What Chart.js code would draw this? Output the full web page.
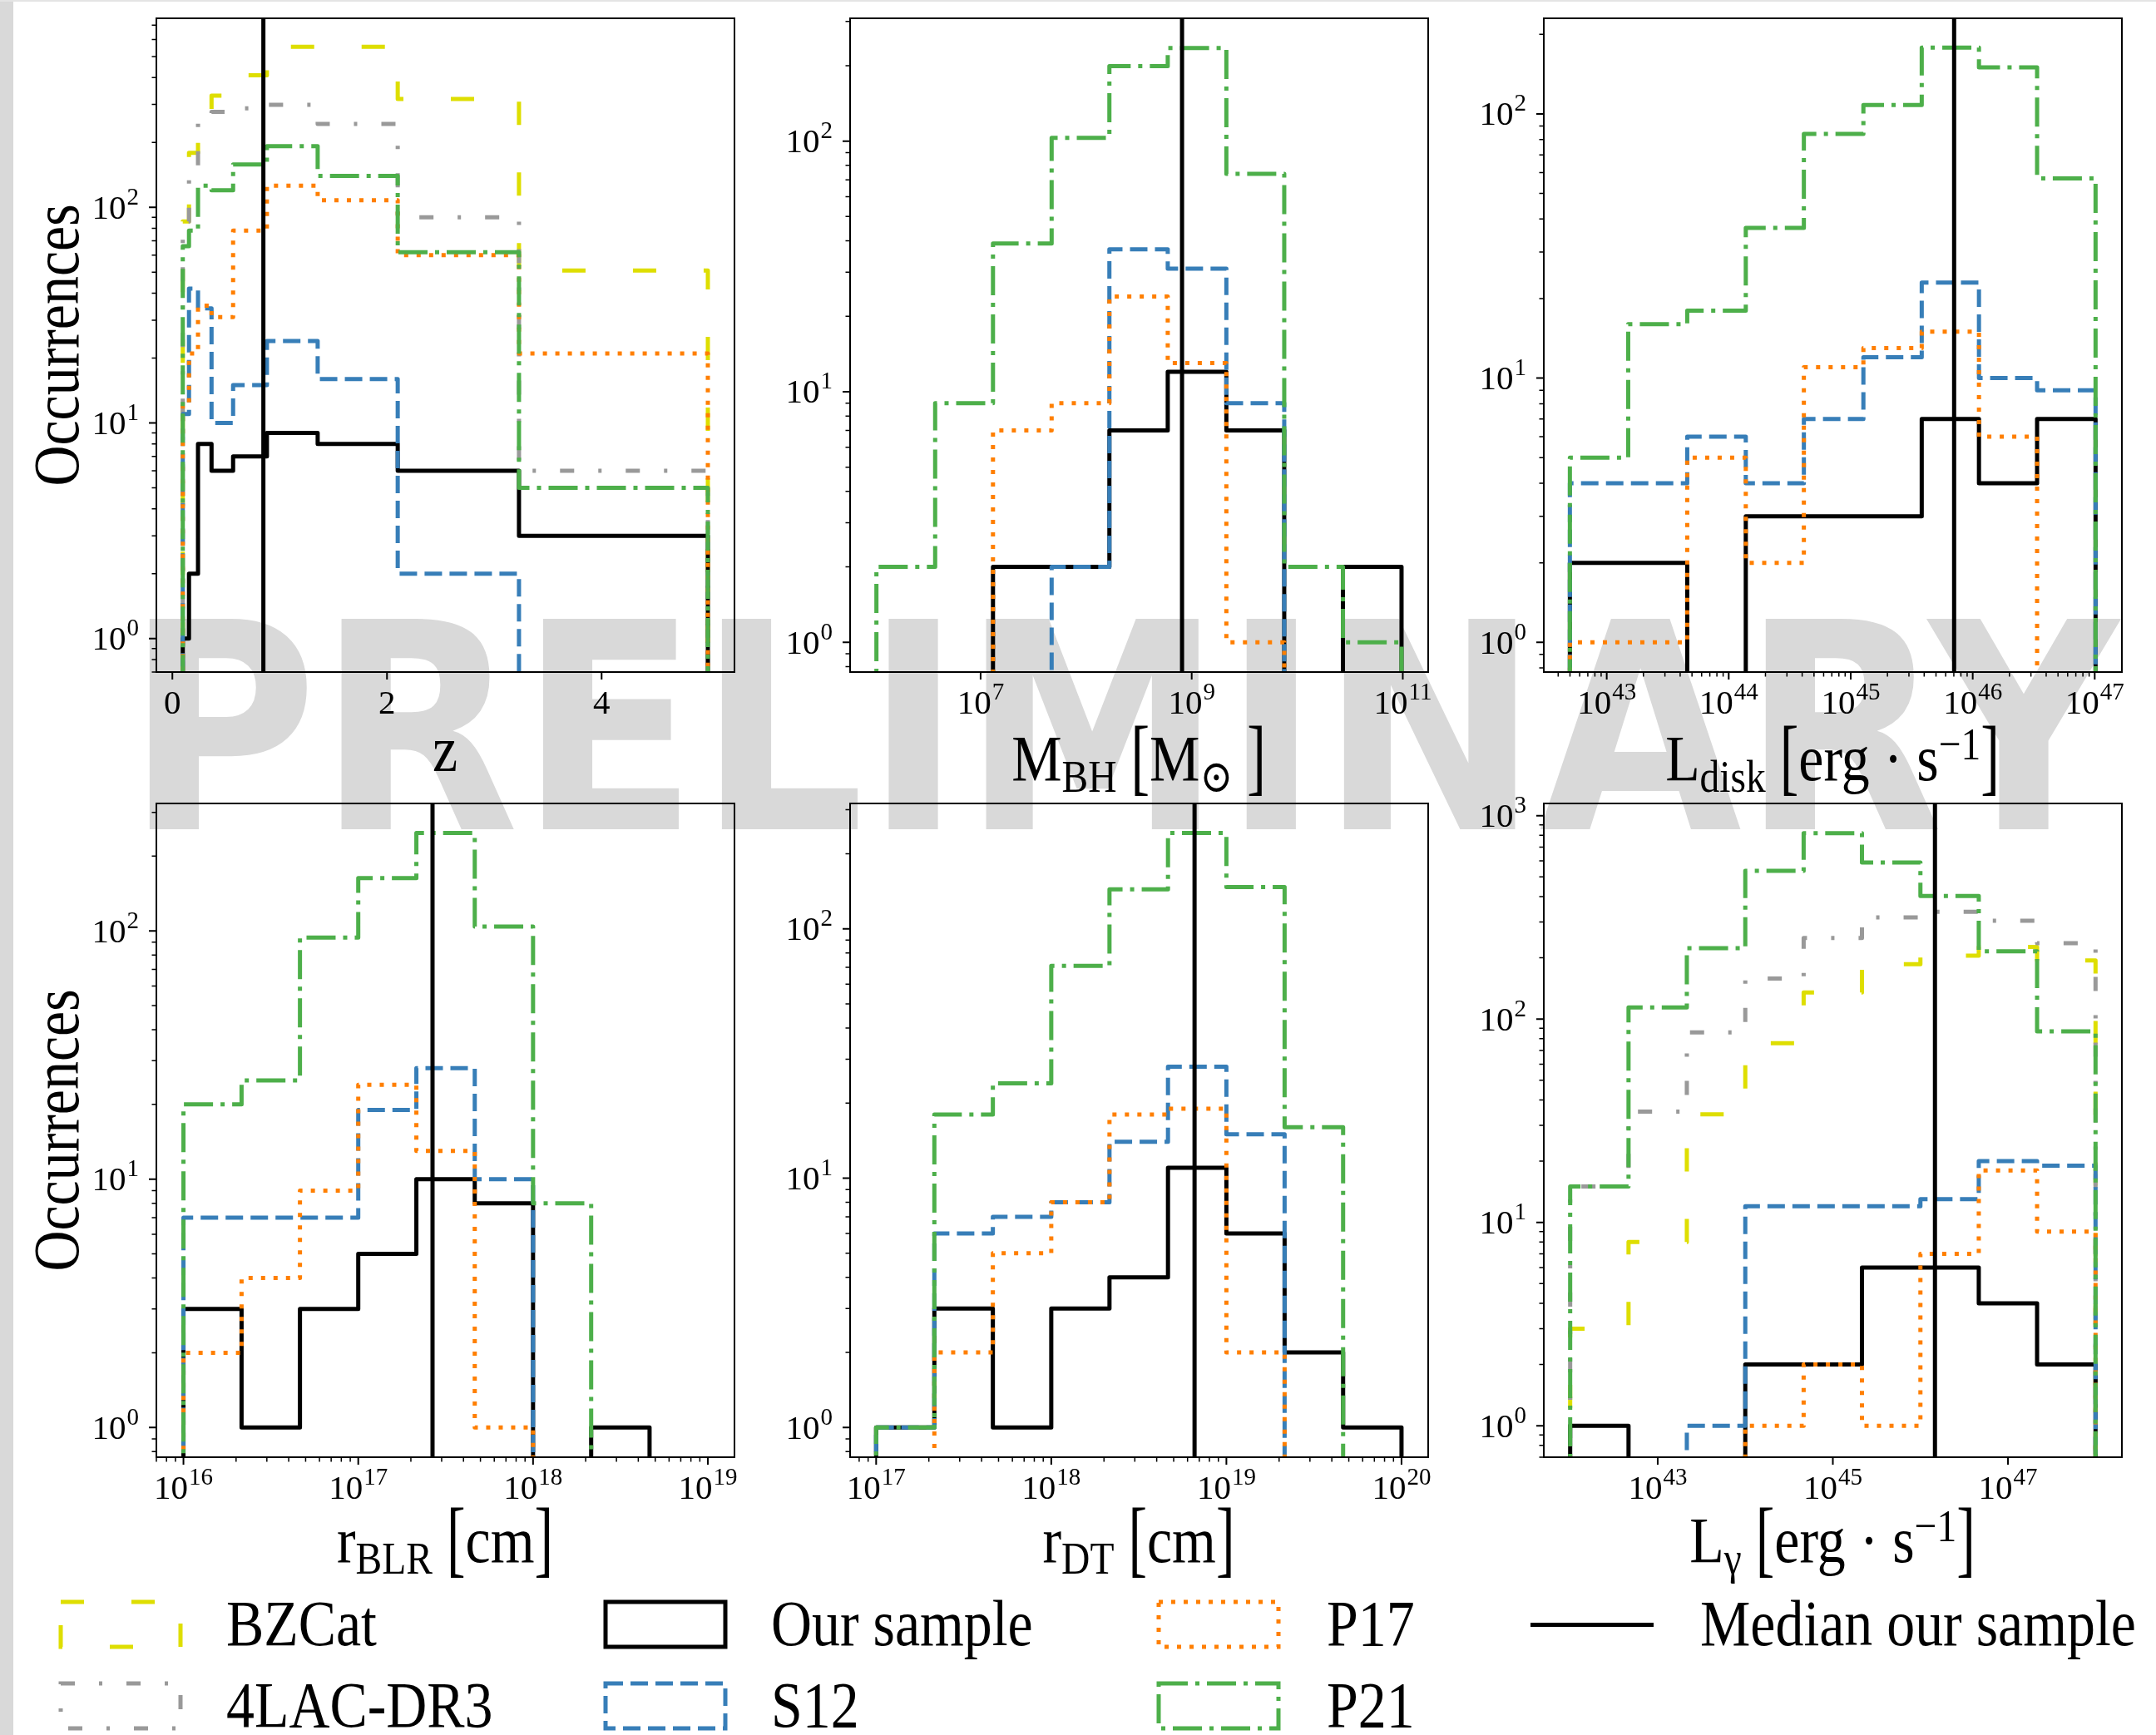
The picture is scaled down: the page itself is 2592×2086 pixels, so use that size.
<!DOCTYPE html>
<html>
<head>
<meta charset="utf-8">
<title>Sample histograms</title>
<script src="https://cdn.jsdelivr.net/npm/chart.js@4.4.1/dist/chart.umd.min.js"></script>
<style>
  html, body { margin: 0; padding: 0; }
  body { position: relative; width: 2592px; height: 2086px; background: #fff; overflow: hidden;
         font-family: "Liberation Serif", "DejaVu Serif", serif; color: #000; }
  #strip { position: absolute; left: 0; top: 0; width: 16px; height: 2086px; background: #d9d9d9; }
  #topline { position: absolute; left: 0; top: 0; width: 2592px; height: 2px; background: #e4e4e4; }
  #watermark { position: absolute; left: 151px; top: 704px; font-family: "DejaVu Sans"; font-weight: bold;
               font-size: 347px; line-height: 1; color: #d9d9d9; white-space: nowrap;
               transform: scaleX(0.907); transform-origin: 0 0; }
  canvas { position: absolute; }
  .xlab { position: absolute; font-size: 78px; line-height: 1; white-space: nowrap;
          transform: translateX(-50%) scaleX(0.87); }
  .ylab { position: absolute; font-size: 78px; line-height: 1; white-space: nowrap;
          transform: translate(-50%, -50%) rotate(-90deg) scaleX(0.87); }
  .sb { font-size: 0.7em; position: relative; top: 0.25em; }
  .sp { font-size: 0.7em; position: relative; top: -0.45em; }
  .br { display: inline-block; transform: scaleY(1.3); transform-origin: 50% 60%; }
  .ltxt { position: absolute; font-size: 78px; line-height: 1; white-space: nowrap;
          transform: scaleX(0.87); transform-origin: 0 0; }
</style>
</head>
<body>
<div id="strip"></div>
<div id="topline"></div>
<div id="watermark">PRELIMINARY</div>

<div class="xlab" style="left:535px; top:862px">z</div>
<div class="xlab" style="left:1369px; top:873px">M<span class="sb">BH</span> <span class="br">[</span>M<span class="sb">⊙</span> <span class="br">]</span></div>
<div class="xlab" style="left:2203px; top:873px">L<span class="sb">disk</span> <span class="br">[</span>erg · s<span class="sp">−1</span><span class="br">]</span></div>
<div class="xlab" style="left:535px; top:1813px">r<span class="sb">BLR</span> <span class="br">[</span>cm<span class="br">]</span></div>
<div class="xlab" style="left:1369px; top:1813px">r<span class="sb">DT</span> <span class="br">[</span>cm<span class="br">]</span></div>
<div class="xlab" style="left:2203px; top:1813px">L<span class="sb">γ</span> <span class="br">[</span>erg · s<span class="sp">−1</span><span class="br">]</span></div>
<div class="ylab" style="left:68px; top:415px">Occurrences</div>
<div class="ylab" style="left:68px; top:1359px">Occurrences</div>

<script>
// ---- data: bin edges and counts per panel ----
const zEdges = [0.097, 0.155, 0.239, 0.365, 0.566, 0.881, 1.354, 2.10, 3.23, 4.99];
const zBZCat = [86, 179, 254, 330, 410, 555, 555, 318, 51];
const z4LAC = [86, 154, 245, 277, 288, 299, 244, 90, 6];
const zOurs = [1, 2, 8, 6, 7, 9, 8, 6, 3];
const zS12 = [11, 42, 34, 10, 15, 24, 16, 2, 0];
const zP17 = [12, 21, 35, 31, 78, 126, 108, 60, 21];
const zP21 = [66, 78, 126, 120, 158, 192, 140, 62, 5];
const zMedian = 0.848;

const mbhEdges = [1.03e6, 3.71e6, 1.31e7, 4.71e7, 1.66e8, 5.93e8, 2.13e9, 7.53e9, 2.71e10, 9.73e10];
const mbhOurs = [0, 0, 2, 2, 7, 12, 7, 0, 2];
const mbhS12 = [0, 0, 0, 2, 37, 31, 9, 0, 0];
const mbhP17 = [0, 0, 7, 9, 24, 13, 1, 0, 0];
const mbhP21 = [2, 9, 39, 103, 199, 235, 74, 2, 1];
const mbhMedian = 8.1e8;

const ldiskEdges = [4.99e42, 1.50e43, 4.57e43, 1.38e44, 4.13e44, 1.27e45, 3.82e45, 1.125e46, 3.37e46, 1.016e47];
const ldiskOurs = [2, 2, 0, 3, 3, 3, 7, 4, 7];
const ldiskS12 = [4, 4, 6, 4, 7, 12, 23, 10, 9];
const ldiskP17 = [1, 1, 5, 2, 11, 13, 15, 6, 0];
const ldiskP21 = [5, 16, 18, 37, 84, 108, 178, 150, 57];
const ldiskMedian = 7.04e45;

const rblrEdges = [1e16, 2.15e16, 4.64e16, 1e17, 2.15e17, 4.64e17, 1e18, 2.15e18, 4.64e18, 1e19];
const rblrOurs = [3, 1, 3, 5, 10, 8, 0, 1, 0];
const rblrS12 = [7, 7, 7, 19, 28, 10, 0, 0, 0];
const rblrP17 = [2, 4, 9, 24, 13, 1, 0, 0, 0];
const rblrP21 = [20, 25, 94, 163, 248, 104, 8, 0, 0];
const rblrMedian = 2.66e17;

const rdtEdges = [1e17, 2.15e17, 4.64e17, 1e18, 2.15e18, 4.64e18, 1e19, 2.15e19, 4.64e19, 1e20];
const rdtOurs = [1, 3, 1, 3, 4, 11, 6, 2, 1];
const rdtS12 = [1, 6, 7, 8, 14, 28, 15, 0, 0];
const rdtP17 = [0, 2, 5, 8, 18, 19, 2, 0, 0];
const rdtP21 = [1, 18, 24, 71, 144, 242, 147, 16, 0];
const rdtMedian = 6.58e18;

const lgEdges = [1e42, 4.64e42, 2.15e43, 1e44, 4.64e44, 2.15e45, 1e46, 4.64e46, 2.15e47, 1e48];
const lgBZCat = [3, 8, 34, 76, 135, 186, 205, 226, 194];
const lg4LAC = [15, 35, 86, 158, 250, 316, 337, 304, 236];
const lgOurs = [1, 0, 0, 2, 2, 6, 6, 4, 2];
const lgS12 = [0, 0, 1, 12, 12, 12, 13, 20, 19];
const lgP17 = [0, 0, 0, 1, 2, 1, 7, 18, 9];
const lgP21 = [15, 114, 223, 535, 820, 588, 403, 215, 87];
const lgMedian = 1.466e46;

// tick positions
const countTicks = [1, 10, 100];
const countTicksWide = [1, 10, 100, 1000];
const zTicks = [0, 2, 4];
const mbhTicks = [1e7, 1e9, 1e11];
const ldiskTicks = [1e43, 1e44, 1e45, 1e46, 1e47];
const rblrTicks = [1e16, 1e17, 1e18, 1e19];
const rdtTicks = [1e17, 1e18, 1e19, 1e20];
const lgTicks = [1e43, 1e45, 1e47];

// ---- styles ----
const SERIES = {
  bzcat: { label: 'BZCat', color: '#dede00', dash: [28, 57], order: 6 },
  lac:   { label: '4LAC-DR3', color: '#999999', dash: [17, 29, 4, 29], order: 5 },
  ours:  { label: 'Our sample', color: '#000000', dash: [], order: 4 },
  s12:   { label: 'S12', color: '#377eb8', dash: [21, 9], order: 3 },
  p17:   { label: 'P17', color: '#ff7f00', dash: [5, 10], order: 2 },
  p21:   { label: 'P21', color: '#4daf4a', dash: [35, 9, 5, 9], order: 1 },
};
const LW = 5;
const FLOOR = 0.01;   // empty bins sit below every y range
const CEIL = 1e5;

const PW = 695, PH = 786;
const PAD = { l: 180, r: 30, t: 20, b: 100 };
const TICK_FONT = '"Liberation Serif", "DejaVu Serif", serif';

const panels = [
  { left: 188, top: 22, xLog: false, xRange: [-0.149, 5.238], yRange: [0.730, 753],
    edges: zEdges, hists: { bzcat: zBZCat, lac: z4LAC, ours: zOurs, s12: zS12, p17: zP17, p21: zP21 },
    median: zMedian, xTicks: zTicks, xMinor: false, yTicks: countTicks },
  { left: 1022, top: 22, xLog: true, xRange: [5.8e5, 1.74e11], yRange: [0.761, 309],
    edges: mbhEdges, hists: { ours: mbhOurs, s12: mbhS12, p17: mbhP17, p21: mbhP21 },
    median: mbhMedian, xTicks: mbhTicks, xMinor: false, yTicks: countTicks },
  { left: 1856, top: 22, xLog: true, xRange: [3.05e42, 1.67e47], yRange: [0.772, 230],
    edges: ldiskEdges, hists: { ours: ldiskOurs, s12: ldiskS12, p17: ldiskP17, p21: ldiskP21 },
    median: ldiskMedian, xTicks: ldiskTicks, xMinor: true, yTicks: countTicks },
  { left: 188, top: 966, xLog: true, xRange: [7.0e15, 1.42e19], yRange: [0.759, 326],
    edges: rblrEdges, hists: { ours: rblrOurs, s12: rblrS12, p17: rblrP17, p21: rblrP21 },
    median: rblrMedian, xTicks: rblrTicks, xMinor: true, yTicks: countTicks },
  { left: 1022, top: 966, xLog: true, xRange: [7.1e16, 1.42e20], yRange: [0.760, 318],
    edges: rdtEdges, hists: { ours: rdtOurs, s12: rdtS12, p17: rdtP17, p21: rdtP21 },
    median: rdtMedian, xTicks: rdtTicks, xMinor: true, yTicks: countTicks },
  { left: 1856, top: 966, xLog: true, xRange: [5.0e41, 2.0e48], yRange: [0.715, 1148],
    edges: lgEdges, hists: { bzcat: lgBZCat, lac: lg4LAC, ours: lgOurs, s12: lgS12, p17: lgP17, p21: lgP21 },
    median: lgMedian, xTicks: lgTicks, xMinor: false, yTicks: countTicksWide },
];

// outline of a step histogram: up the first edge, across each bin, down the last edge
function stepOutline(edges, counts) {
  const pts = [{ x: edges[0], y: FLOOR }];
  counts.forEach((c, i) => {
    const y = c > 0 ? c : FLOOR;
    pts.push({ x: edges[i], y }, { x: edges[i + 1], y });
  });
  pts.push({ x: edges[edges.length - 1], y: FLOOR });
  return pts;
}

function minorTicks(min, max) {
  const out = [];
  for (let d = Math.floor(Math.log10(min)); d <= Math.ceil(Math.log10(max)); d++) {
    for (let k = 2; k <= 9; k++) {
      const v = k * Math.pow(10, d);
      if (v >= min && v <= max) out.push(v);
    }
  }
  return out;
}

function tickLabel(ctx, v, isLog, x, baseline, align) {
  const main = isLog ? '10' : String(v);
  const exp = isLog ? String(Math.round(Math.log10(v))) : '';
  ctx.font = '41px ' + TICK_FONT;
  const w1 = ctx.measureText(main).width;
  ctx.font = '29px ' + TICK_FONT;
  const w2 = exp ? ctx.measureText(exp).width + 1 : 0;
  const x0 = align === 'center' ? x - (w1 + w2) / 2 : x - (w1 + w2);
  ctx.font = '41px ' + TICK_FONT;
  ctx.fillText(main, x0, baseline);
  if (exp) {
    ctx.font = '29px ' + TICK_FONT;
    ctx.fillText(exp, x0 + w1 + 1, baseline - 17);
  }
}

// box, outward ticks and tick labels
function makeFrame(p) {
  return {
    id: 'axesFrame',
    afterDatasetsDraw(chart) {
      const { ctx, chartArea: a } = chart;
      const xs = chart.scales.x, ys = chart.scales.y;
      ctx.save();
      ctx.strokeStyle = '#000';
      ctx.fillStyle = '#000';
      ctx.lineCap = 'butt';
      ctx.setLineDash([]);

      ctx.lineWidth = 1.5;
      ctx.beginPath();
      if (p.xMinor) {
        minorTicks(xs.min, xs.max).forEach(v => {
          const px = xs.getPixelForValue(v);
          ctx.moveTo(px, a.bottom); ctx.lineTo(px, a.bottom + 5.5);
        });
      }
      minorTicks(ys.min, ys.max).forEach(v => {
        const py = ys.getPixelForValue(v);
        ctx.moveTo(a.left, py); ctx.lineTo(a.left - 5.5, py);
      });
      ctx.stroke();

      ctx.lineWidth = 2;
      ctx.beginPath();
      p.xTicks.forEach(v => {
        const px = xs.getPixelForValue(v);
        ctx.moveTo(px, a.bottom); ctx.lineTo(px, a.bottom + 9);
      });
      p.yTicks.forEach(v => {
        const py = ys.getPixelForValue(v);
        ctx.moveTo(a.left, py); ctx.lineTo(a.left - 9, py);
      });
      ctx.stroke();

      ctx.textAlign = 'left';
      ctx.textBaseline = 'alphabetic';
      p.xTicks.forEach(v => tickLabel(ctx, v, p.xLog, xs.getPixelForValue(v), a.bottom + 50, 'center'));
      p.yTicks.forEach(v => tickLabel(ctx, v, true, a.left - 21, ys.getPixelForValue(v) + 13.5, 'right'));

      ctx.lineWidth = 2;
      ctx.strokeRect(a.left, a.top, a.right - a.left, a.bottom - a.top);
      ctx.restore();
    }
  };
}

function buildPanel(p) {
  const canvas = document.createElement('canvas');
  canvas.width = PW + PAD.l + PAD.r;
  canvas.height = PH + PAD.t + PAD.b;
  canvas.style.left = (p.left - PAD.l) + 'px';
  canvas.style.top = (p.top - PAD.t) + 'px';
  document.body.appendChild(canvas);

  const datasets = [{
    data: [{ x: p.median, y: FLOOR }, { x: p.median, y: CEIL }],
    borderColor: '#000', borderWidth: LW, order: 0, clip: 0, pointRadius: 0
  }];
  Object.keys(p.hists).forEach(key => {
    const s = SERIES[key];
    datasets.push({
      data: stepOutline(p.edges, p.hists[key]),
      borderColor: s.color,
      borderWidth: LW,
      borderDash: s.dash,
      borderJoinStyle: 'round',
      borderCapStyle: 'butt',
      pointRadius: 0,
      clip: 0,
      order: s.order
    });
  });

  new Chart(canvas, {
    type: 'line',
    data: { datasets },
    options: {
      responsive: false,
      animation: false,
      devicePixelRatio: 1,
      events: [],
      layout: { padding: { left: 0, right: PAD.r, top: PAD.t, bottom: 0 } },
      elements: { line: { tension: 0, fill: false } },
      plugins: { legend: { display: false }, tooltip: { enabled: false } },
      scales: {
        x: {
          type: p.xLog ? 'logarithmic' : 'linear',
          min: p.xRange[0], max: p.xRange[1],
          ticks: { display: false }, grid: { display: false }, border: { display: false },
          afterFit: s => { s.height = PAD.b; }
        },
        y: {
          type: 'logarithmic',
          min: p.yRange[0], max: p.yRange[1],
          ticks: { display: false }, grid: { display: false }, border: { display: false },
          afterFit: s => { s.width = PAD.l; }
        }
      }
    },
    plugins: [makeFrame(p)]
  });
}

panels.forEach(buildPanel);

// ---- legend ----
const legendCols = [
  { patchX: 73, textX: 272, keys: ['bzcat', 'lac'] },
  { patchX: 728, textX: 927, keys: ['ours', 's12'] },
  { patchX: 1393, textX: 1595, keys: ['p17', 'p21'] },
];
const legendRows = [{ top: 1926, base: 1978 }, { top: 2024, base: 2076 }];

legendCols.forEach(col => {
  col.keys.forEach((key, r) => {
    const s = SERIES[key];
    const row = legendRows[r];
    const dash = s.dash.length ? s.dash.join(' ') : 'none';
    const holder = document.createElement('div');
    holder.innerHTML =
      `<svg width="154" height="64" style="position:absolute;left:${col.patchX - 5}px;top:${row.top - 5}px">` +
      `<rect x="5" y="5" width="144" height="54" fill="none" stroke="${s.color}" stroke-width="${LW}" stroke-dasharray="${dash}"/></svg>`;
    document.body.appendChild(holder.firstChild);
    const t = document.createElement('div');
    t.className = 'ltxt';
    t.style.left = col.textX + 'px';
    t.style.top = (row.base - 65) + 'px';
    t.textContent = s.label;
    document.body.appendChild(t);
  });
});

const medLine = document.createElement('div');
medLine.style.cssText = 'position:absolute;left:1840px;top:1950.5px;width:148px;height:5px;background:#000';
document.body.appendChild(medLine);
const medText = document.createElement('div');
medText.className = 'ltxt';
medText.style.left = '2044px';
medText.style.top = (1978 - 65) + 'px';
medText.textContent = 'Median our sample';
document.body.appendChild(medText);
</script>
</body>
</html>
